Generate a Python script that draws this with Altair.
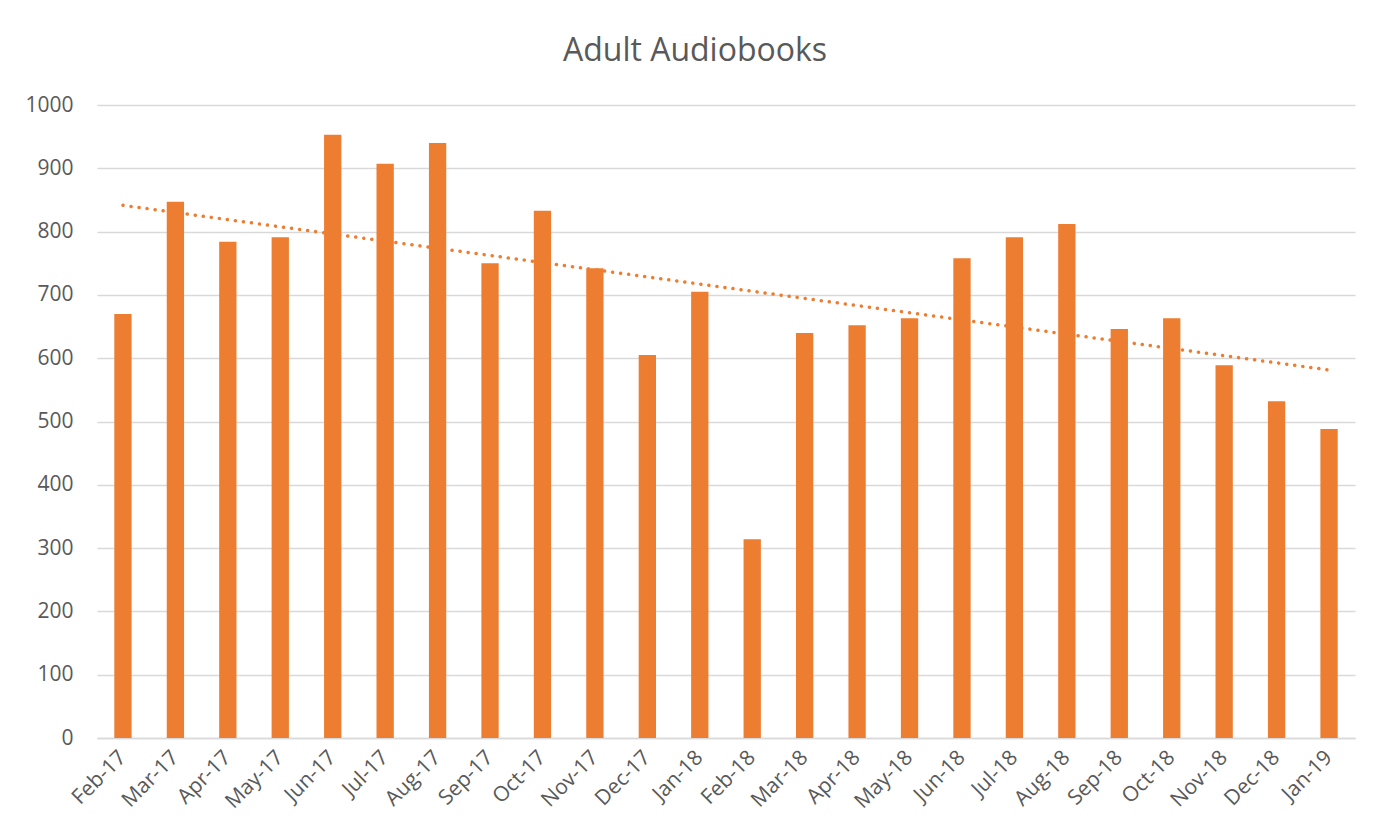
import altair as alt
import pandas as pd

months = ["Feb-17", "Mar-17", "Apr-17", "May-17", "Jun-17", "Jul-17", "Aug-17",
          "Sep-17", "Oct-17", "Nov-17", "Dec-17", "Jan-18", "Feb-18", "Mar-18",
          "Apr-18", "May-18", "Jun-18", "Jul-18", "Aug-18", "Sep-18", "Oct-18",
          "Nov-18", "Dec-18", "Jan-19"]
values = [670, 847, 784, 791, 953, 907, 940, 750, 833, 742, 605, 705, 314, 640,
          652, 663, 758, 791, 812, 646, 663, 589, 532, 488]
y_ticks = [0, 100, 200, 300, 400, 500, 600, 700, 800, 900, 1000]

df = pd.DataFrame({"month": months, "value": values, "idx": list(range(len(months)))})

ORANGE = "#ED7D31"
TEXT = "#595959"
GRID = "#D9D9D9"
FONT = "Open Sans"

x_enc = alt.X("month:N", sort=months, title=None,
              scale=alt.Scale(paddingInner=0.67, paddingOuter=0.33),
              axis=alt.Axis(labelAngle=-45, labelAlign="right", labelBaseline="middle",
                            labelFontSize=21, labelColor=TEXT, labelFont=FONT,
                            labelPadding=16, ticks=False, domainColor=GRID,
                            domainWidth=1.5, grid=False))
y_enc = alt.Y("value:Q", title=None,
              scale=alt.Scale(domain=[0, 1000], nice=False),
              axis=alt.Axis(values=y_ticks, format="d", labelFontSize=21, labelColor=TEXT,
                            labelFont=FONT, labelPadding=24, ticks=False,
                            domain=False, gridColor=GRID, gridWidth=1.5))

bars = alt.Chart(df).mark_bar(color=ORANGE).encode(x=x_enc, y=y_enc)

label_arr = "[" + ",".join("'%s'" % m for m in months) + "]"
trend = alt.Chart(df).transform_regression("idx", "value").transform_calculate(
    month=label_arr + "[round(datum.idx)]"
).mark_line(color=ORANGE, strokeWidth=3.5, strokeDash=[0.1, 8], strokeCap="round").encode(
    x=alt.X("month:N", sort=months), y="value:Q")

chart = alt.layer(bars, trend).properties(
    width=1258, height=633,
    title=alt.TitleParams("Adult Audiobooks", fontSize=32, font=FONT, color=TEXT,
                          fontWeight="normal", anchor="middle", offset=1,
                          baseline="alphabetic", dx=-31),
    autosize=alt.AutoSizeParams(type="none"),
    padding={"left": 89, "top": 97, "right": 14, "bottom": 92},
).configure(background="white").configure_view(strokeWidth=0)

chart.save("out.html", embed_options={"renderer": "svg", "actions": False})
